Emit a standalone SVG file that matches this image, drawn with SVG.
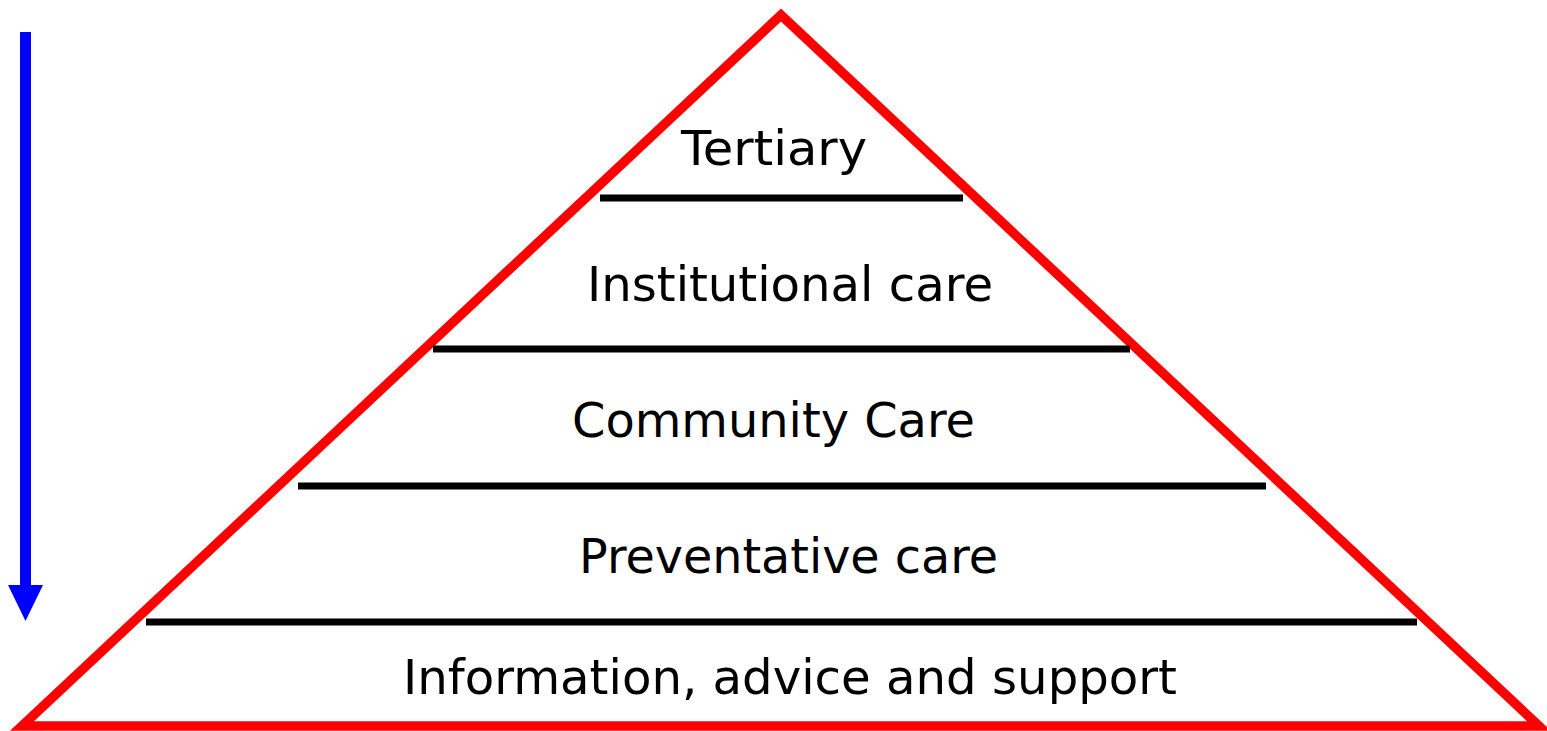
<svg xmlns="http://www.w3.org/2000/svg" width="1547" height="731" viewBox="0 0 1547 731">
<style>
.lvl{stroke:#000;stroke-width:7;}
.lbl{font-family:"DejaVu Sans",Verdana,sans-serif;font-size:48px;fill:#000;text-anchor:middle;}
</style>
<rect width="1547" height="731" fill="#fff"/>
<g id="pyramid">
<polygon points="781,15 22,726 1539,726" fill="none" stroke="#f00" stroke-width="9.5" stroke-linejoin="miter"/>
</g>
<g id="connectors">
<line class="lvl" x1="600" y1="198" x2="963" y2="198"/>
<line class="lvl" x1="433" y1="349" x2="1130" y2="349"/>
<line class="lvl" x1="298" y1="486" x2="1266" y2="486"/>
<line class="lvl" x1="146" y1="622" x2="1417" y2="622"/>
</g>
<g id="arrow">
<rect x="20" y="32" width="11" height="554" fill="#00f"/>
<polygon points="8,585 43,585 25.5,621" fill="#00f"/>
</g>
<g id="tertiary"><text class="lbl" x="774" y="165" textLength="186" lengthAdjust="spacingAndGlyphs">Tertiary</text></g>
<g id="institutional"><text class="lbl" x="790" y="301" textLength="406" lengthAdjust="spacingAndGlyphs">Institutional care</text></g>
<g id="community"><text class="lbl" x="773.5" y="437" textLength="403" lengthAdjust="spacingAndGlyphs">Community Care</text></g>
<g id="preventative"><text class="lbl" x="788.5" y="573" textLength="419" lengthAdjust="spacingAndGlyphs">Preventative care</text></g>
<g id="information"><text class="lbl" x="790" y="694" textLength="774" lengthAdjust="spacingAndGlyphs">Information, advice and support</text></g>
</svg>
